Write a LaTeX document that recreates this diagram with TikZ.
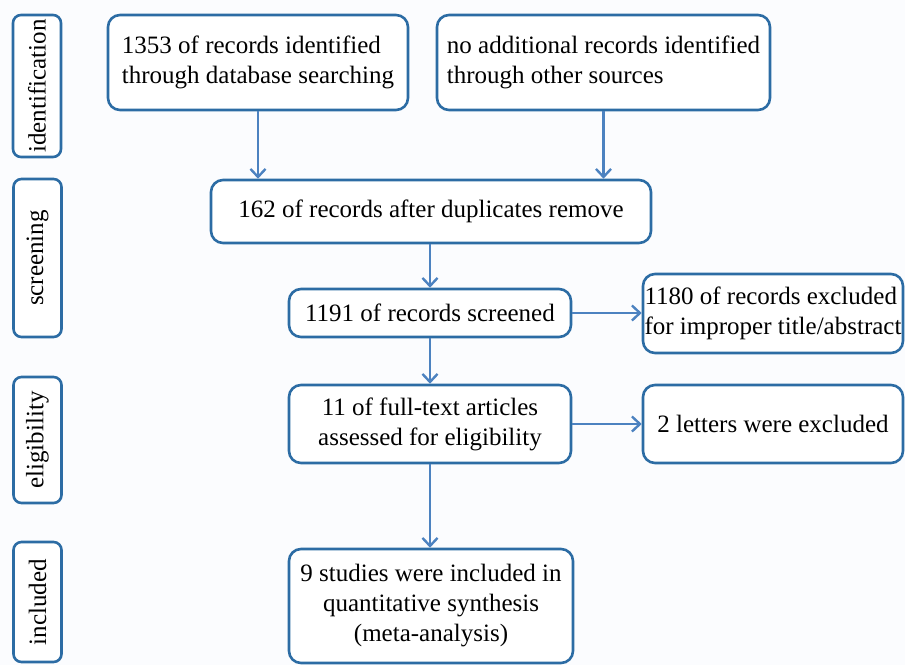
\documentclass[tikz,border=0pt]{standalone}
\usepackage{fontspec}
\setmainfont{Liberation Serif}
\usetikzlibrary{arrows.meta}
\definecolor{bordc}{HTML}{2C6CA4}
\definecolor{arrc}{HTML}{4C82C0}
\definecolor{bgc}{HTML}{FBFCFE}
\tikzset{
  box/.style={draw=bordc, line width=2.6pt, rounded corners=12pt, fill=white, inner sep=2pt,
    font=\fontsize{25}{30}\selectfont, text=black},
  sidebox/.style={draw=bordc, line width=2.6pt, rounded corners=8pt, fill=white, inner sep=1pt,
    rotate=90, font=\fontsize{25}{30}\selectfont, text=black},
  conn/.style={draw=arrc, line width=2.4pt, -{Straight Barb[length=8pt,width=15pt,line width=2.4pt]}}
}
\begin{document}
\begin{tikzpicture}[x=1pt,y=-1pt]
\useasboundingbox[fill=bgc] (0,0) rectangle (905,665);
% side labels
\node[sidebox, minimum width=142pt, minimum height=48pt] (sid) at (37,86) {identification};
\node[sidebox, minimum width=158pt, minimum height=48pt] (sscr) at (37.5,258) {screening};
\node[sidebox, minimum width=126pt, minimum height=48pt] (seli) at (37.5,440) {eligibility};
\node[sidebox, minimum width=120pt, minimum height=48pt] (sinc) at (37.5,602) {included};
% main boxes
\node[box, minimum width=300pt, minimum height=95pt, align=left] (a) at (258,62.5)
  {1353 of records identified\\through database searching};
\node[box, minimum width=333pt, minimum height=95pt, align=left] (b) at (603.5,62.5)
  {no additional records identified\\through other sources};
\node[box, minimum width=440pt, minimum height=63pt] (c) at (431,211.5)
  {162 of records after duplicates remove};
\node[box, minimum width=282pt, minimum height=48pt] (d) at (430,313)
  {1191 of records screened};
\node[box, minimum width=260pt, minimum height=79pt, align=left, inner sep=1pt] (e) at (773,313.5)
  {1180 of records excluded\\for improper title/abstract};
\node[box, minimum width=282pt, minimum height=78pt, align=center] (f) at (430,424)
  {11 of full-text articles\\assessed for eligibility};
\node[box, minimum width=260pt, minimum height=78pt] (g) at (773,424)
  {2 letters were excluded};
\node[box, minimum width=284pt, minimum height=114pt, align=center] (h) at (431,606)
  {9 studies were included in\\quantitative synthesis\\(meta-analysis)};
% connectors
\draw[conn] (a.south) -- (a.south |- c.north);
\draw[conn] (b.south) -- (b.south |- c.north);
\draw[conn] (c.south -| d.north) -- (d.north);
\draw[conn] (d.east) -- (d.east -| e.west);
\draw[conn] (d.south) -- (f.north);
\draw[conn] (f.east) -- (f.east -| g.west);
\draw[conn] (f.south) -- (f.south |- h.north);
\end{tikzpicture}
\end{document}
